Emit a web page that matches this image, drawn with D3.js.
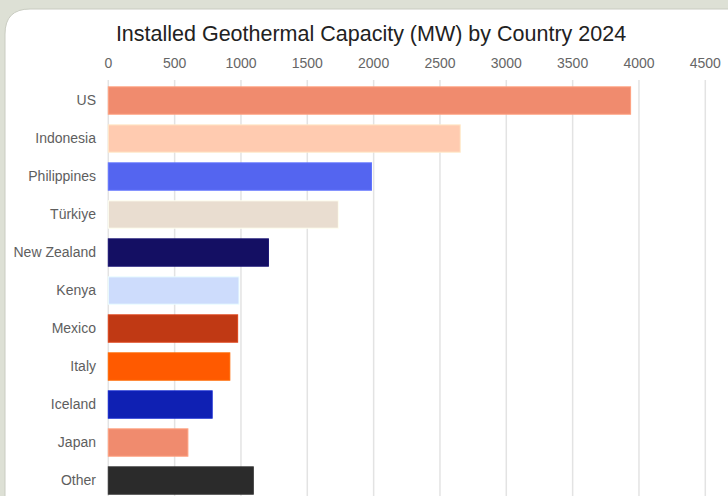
<!DOCTYPE html>
<html>
<head>
<meta charset="utf-8">
<script src="https://cdn.jsdelivr.net/npm/d3@7"></script>
<style>
  html, body { margin: 0; padding: 0; background: #dde0d5; overflow: hidden; }
  svg { display: block; font-family: "Liberation Sans", Arial, sans-serif; }
</style>
</head>
<body>
<svg></svg>
<script>
let countries = ['US', 'Indonesia', 'Philippines', 'Türkiye', 'New Zealand', 'Kenya', 'Mexico', 'Italy', 'Iceland', 'Japan', 'Other'];
let capacity = [3937, 2653, 1984, 1734, 1207, 985, 975, 916, 783, 600, 1093];
let barColors = ['#f08b6e', '#ffcbb0', '#5465f0', '#e9ddd0', '#140f63', '#cddcfc', '#c03914', '#ff5a00', '#0f20b3', '#f08b6e', '#2b2b2b'];
let ticks = [0, 500, 1000, 1500, 2000, 2500, 3000, 3500, 4000, 4500];

let width = 728;
let height = 496;

let svg = d3.select('svg')
    .attr('width', width)
    .attr('height', height);

// card
svg.append('path')
    .attr('d', 'M5,560 L5,34 Q5,9 30,9 L800,9 L800,560 Z')
    .attr('fill', '#ffffff')
    .attr('stroke', '#c9ccc1')
    .attr('stroke-width', 1);

svg.append('text')
    .attr('x', 371)
    .attr('y', 41)
    .attr('text-anchor', 'middle')
    .attr('font-size', 21.5)
    .attr('fill', '#222')
    .text('Installed Geothermal Capacity (MW) by Country 2024');

let x = d3.scaleLinear()
    .domain([0, 4500])
    .range([108.3, 705.3]);

let y = d3.scaleBand()
    .domain(countries)
    .range([76.2, 76.2 + 38 * 11.28])
    .padding(0.28);

// gridlines
svg.append('g')
    .selectAll('line')
    .data(ticks)
    .enter()
    .append('line')
        .attr('x1', d => x(d))
        .attr('x2', d => x(d))
        .attr('y1', 80)
        .attr('y2', height)
        .attr('stroke', '#e3e3e3')
        .attr('stroke-width', 1.5);

// tick labels
svg.append('g')
    .selectAll('text')
    .data(ticks)
    .enter()
    .append('text')
        .attr('x', d => x(d))
        .attr('y', 68)
        .attr('text-anchor', 'middle')
        .attr('font-size', 14)
        .attr('fill', '#666')
        .text(d => d);

let rows = countries.map((c, i) => ({ country: c, value: capacity[i], color: barColors[i] }));

svg.append('g')
    .selectAll('rect')
    .data(rows)
    .enter()
    .append('rect')
        .attr('x', x(0))
        .attr('y', d => y(d.country))
        .attr('width', d => x(d.value) - x(0))
        .attr('height', y.bandwidth())
        .attr('fill', d => d.color)
        .attr('stroke', d => d3.color(d.color).brighter(0.4))
        .attr('stroke-width', 1);

svg.append('g')
    .selectAll('text')
    .data(rows)
    .enter()
    .append('text')
        .attr('x', 96)
        .attr('y', d => y(d.country) + y.bandwidth() / 2)
        .attr('dy', '0.35em')
        .attr('text-anchor', 'end')
        .attr('font-size', 14)
        .attr('fill', '#5e5e5e')
        .text(d => d.country);
</script>
</body>
</html>
